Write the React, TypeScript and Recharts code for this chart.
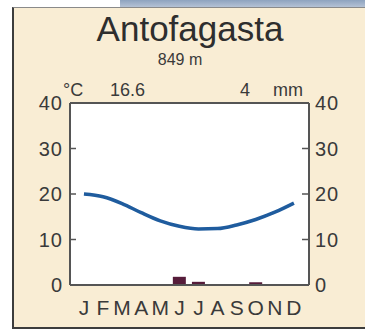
import React from "react";
import {
  ComposedChart,
  Line,
  Bar,
  XAxis,
  YAxis,
  CartesianGrid,
  ReferenceLine,
} from "recharts";

const months = ["J", "F", "M", "A", "M", "J", "J", "A", "S", "O", "N", "D"];
const temperature = [20.0, 19.4, 17.9, 15.9, 14.1, 12.9, 12.3, 12.4, 13.2, 14.4, 16.0, 18.0];
const precipitation = [0, 0, 0, 0, 0, 1.8, 0.7, 0, 0, 0.6, 0, 0];
const yTicks = [0, 10, 20, 30, 40];

const data = months.map((m, i) => ({
  idx: i,
  month: m,
  temp: temperature[i],
  prec: precipitation[i],
}));

const FONT = "'Liberation Sans', Arial, sans-serif";
const TEXT = "#3a3a3a";
const BORDER = "#555";

const LeftTick = (props: any) => {
  const { x, y, payload } = props;
  const v = payload.value;
  return (
    <g>
      {v > 0 && v < 40 && (
        <line x1={x + 7} x2={x + 13} y1={y} y2={y} stroke={BORDER} strokeWidth={1.5} />
      )}
      <text x={x} y={y} dy={7} textAnchor="end" fontSize={20} fill={TEXT} fontFamily={FONT} letterSpacing={1}>
        {v}
      </text>
    </g>
  );
};

const RightTick = (props: any) => {
  const { x, y, payload } = props;
  const v = payload.value;
  return (
    <g>
      {v > 0 && v < 40 && (
        <line x1={x - 13} x2={x - 6} y1={y} y2={y} stroke={BORDER} strokeWidth={1.5} />
      )}
      <text x={x} y={y} dy={7} textAnchor="start" fontSize={20} fill={TEXT} fontFamily={FONT} letterSpacing={1}>
        {v}
      </text>
    </g>
  );
};

const MonthTick = (props: any) => {
  const { x, y, payload } = props;
  return (
    <text x={x} y={y} dy={28} textAnchor="middle" fontSize={21} fill={TEXT} fontFamily={FONT}>
      {months[payload.value]}
    </text>
  );
};

export default function App() {
  return (
    <div style={{ position: "absolute", left: 0, top: 0, width: 365, height: 332, background: "#fff", overflow: "hidden" }}>
      {/* strip of the page above the card */}
      <div
        style={{
          position: "absolute",
          left: 120,
          top: 0,
          width: 245,
          height: 8,
          background: "linear-gradient(#8ea3bf, #b9c6d8)",
        }}
      />
      {/* beige card */}
      <div
        style={{
          position: "absolute",
          left: 12,
          top: 7,
          width: 360,
          height: 319,
          background: "#f9edd4",
          borderLeft: "2px solid #3d3d3d",
          borderBottom: "2px solid #3d3d3d",
          borderTop: "1px solid #8a8a8a",
        }}
      />
      <div style={{ position: "absolute", left: 0, top: 0 }}>
        <ComposedChart
          width={365}
          height={332}
          data={data}
          margin={{ top: 103, left: 30, right: 6, bottom: 17 }}
        >
          <CartesianGrid fill="#fff" fillOpacity={1} horizontal={false} vertical={false} />
          <XAxis
            dataKey="idx"
            type="number"
            domain={[-0.73, 11.79]}
            ticks={months.map((_, i) => i)}
            interval={0}
            allowDataOverflow
            height={30}
            tickSize={0}
            tickLine={false}
            tick={<MonthTick />}
            axisLine={{ stroke: BORDER, strokeWidth: 2 }}
          />
          <YAxis
            domain={[0, 40]}
            ticks={yTicks}
            interval={0}
            width={40}
            tickSize={0}
            tickMargin={7}
            tickLine={false}
            tick={<LeftTick />}
            axisLine={{ stroke: BORDER, strokeWidth: 2 }}
          />
          <YAxis
            yAxisId="right"
            orientation="right"
            domain={[0, 40]}
            ticks={yTicks}
            interval={0}
            width={50}
            tickSize={0}
            tickMargin={6}
            tickLine={false}
            tick={<RightTick />}
            axisLine={{ stroke: BORDER, strokeWidth: 2 }}
          />
          <ReferenceLine y={40} stroke={BORDER} strokeWidth={2} />
          <Bar
            dataKey="prec"
            yAxisId="right"
            fill="#561c3a"
            barSize={13}
            isAnimationActive={false}
          />
          <Line
            type="monotone"
            dataKey="temp"
            stroke="#1f5c9e"
            strokeWidth={3.5}
            dot={false}
            isAnimationActive={false}
          />
        </ComposedChart>
      </div>
      <svg
        width={365}
        height={332}
        style={{ position: "absolute", left: 0, top: 0, pointerEvents: "none" }}
        fontFamily={FONT}
        fill={TEXT}
      >
        <text x={190} y={41} textAnchor="middle" fontSize={35} fill="#2e2e2e">
          Antofagasta
        </text>
        <text x={180} y={65} textAnchor="middle" fontSize={16}>
          849 m
        </text>
        <text x={63} y={96} fontSize={18}>
          °C
        </text>
        <text x={110} y={96} fontSize={18}>
          16.6
        </text>
        <text x={240} y={96} fontSize={18}>
          4
        </text>
        <text x={273} y={96} fontSize={18}>
          mm
        </text>
      </svg>
    </div>
  );
}
